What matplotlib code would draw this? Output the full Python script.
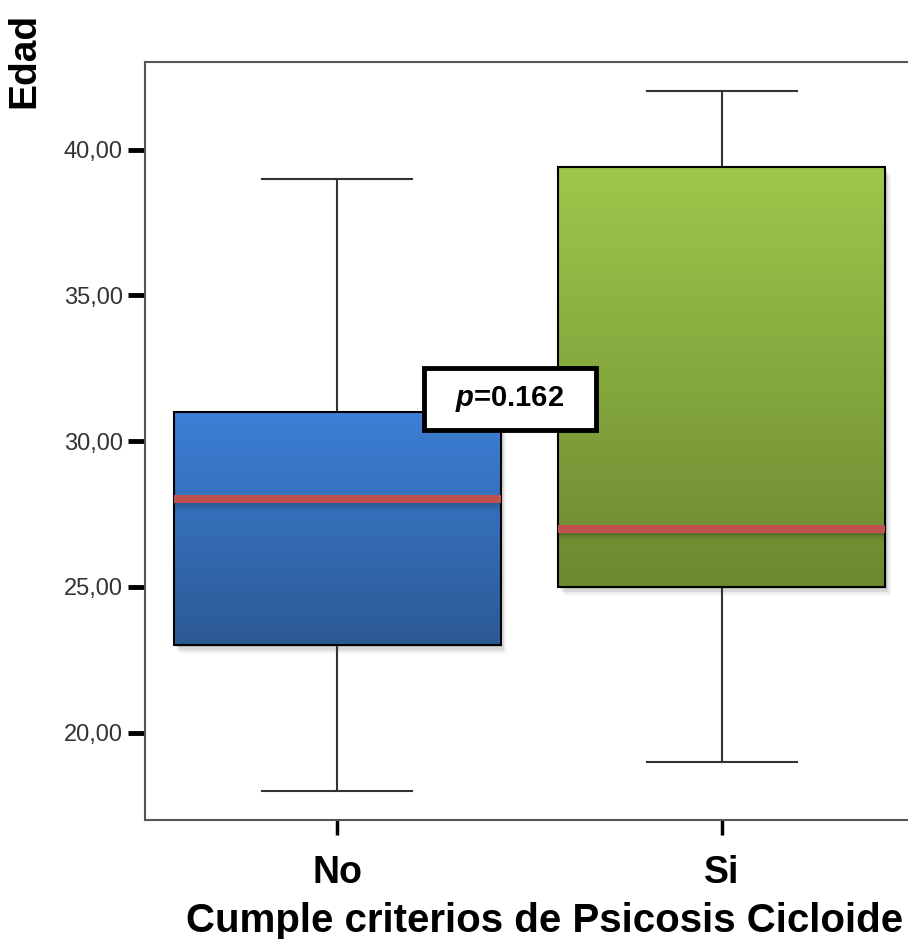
import numpy as np
import matplotlib.pyplot as plt
from matplotlib.patches import Rectangle
from matplotlib.colors import to_rgb

plt.rcParams['font.family'] = ['Liberation Sans', 'DejaVu Sans']
plt.rcParams['mathtext.fontset'] = 'custom'
plt.rcParams['mathtext.it'] = 'Liberation Sans:italic:bold'

# datos
grupos = ['No', 'Si']
q1 = [23.0, 25.0]
mediana = [28.0, 27.0]
q3 = [31.0, 39.4]
bigote_inf = [18.0, 19.0]
bigote_sup = [39.0, 42.0]
yticks = [20, 25, 30, 35, 40]
p_texto = r'$p$=0.162'

color_arriba = ['#3d80d6', '#9ec84b']
color_abajo = ['#2b5994', '#6c8831']

stats = []
for i in range(len(grupos)):
    stats.append(dict(label=grupos[i], q1=q1[i], med=mediana[i], q3=q3[i],
                      whislo=bigote_inf[i], whishi=bigote_sup[i], fliers=[]))

fig = plt.figure(figsize=(9.08, 9.39), dpi=100)
ax = fig.add_axes([0.1597, 0.1267, 0.847, 0.807])
pos = np.arange(len(grupos))
ancho = 0.85

bp = ax.bxp(stats, positions=pos, widths=ancho, capwidths=0.39,
            patch_artist=True, showfliers=False,
            boxprops=dict(facecolor='none', edgecolor='black', linewidth=1.5, zorder=3),
            whiskerprops=dict(color='#333333', linewidth=1.5),
            capprops=dict(color='#333333', linewidth=1.5),
            medianprops=dict(color='#c0504d', linewidth=5.8, solid_capstyle='butt', zorder=5))

grad = np.linspace(0, 1, 256)[:, None, None]
for i in range(len(grupos)):
    x0, x1 = pos[i] - ancho / 2, pos[i] + ancho / 2
    # sombra de la caja
    for k, a in zip([1, 2, 3, 4], [0.10, 0.07, 0.05, 0.03]):
        ax.add_patch(Rectangle((x0 + 0.004 * k, q1[i] - 0.08 * k), x1 - x0, q3[i] - q1[i],
                               color='black', alpha=a, lw=0, zorder=1))
    c0 = np.array(to_rgb(color_arriba[i]))
    c1 = np.array(to_rgb(color_abajo[i]))
    img = c0 * (1 - grad) + c1 * grad
    ax.imshow(img, extent=[x0, x1, q1[i], q3[i]], origin='upper', aspect='auto', zorder=2)
    # sombra de la mediana
    for d, a in zip([0.17, 0.23, 0.29, 0.35], [0.16, 0.11, 0.07, 0.03]):
        ax.plot([x0, x1], [mediana[i] - d] * 2, color='black', alpha=a, lw=1.6,
                solid_capstyle='butt', zorder=4)

ax.set_xlim(-0.5, 1.5)
ax.set_ylim(17, 43)
ax.set_xticks(pos)
ax.set_xticklabels(grupos, fontsize=27, fontweight='bold')
ax.set_yticks(yticks)
ax.set_yticklabels(['%d,00' % v for v in yticks], fontsize=17, color='#333333')
ax.tick_params(axis='y', length=12, width=3.5, color='black', pad=4)
ax.tick_params(axis='x', length=11, width=2.5, color='black', pad=14)

for s in ['left', 'top', 'bottom']:
    ax.spines[s].set_color('#555555')
    ax.spines[s].set_linewidth(1.5)
ax.spines['right'].set_visible(False)

ax.set_xlabel('Cumple criterios de Psicosis Cicloide', fontsize=29, fontweight='bold')
ax.xaxis.set_label_coords(0.519, -0.108)
ax.set_ylabel('Edad', fontsize=28, fontweight='bold', loc='top')
ax.yaxis.set_label_coords(-0.133, 1.065)

# recuadro con el valor p
ax.add_patch(Rectangle((0.226, 30.38), 0.447, 2.12, fc='white', ec='black', lw=3.5, zorder=6))
ax.text(0.449, 31.44, p_texto, ha='center', va='center', fontsize=21, fontweight='bold', zorder=7)

fig.savefig('out.png', dpi=100)
